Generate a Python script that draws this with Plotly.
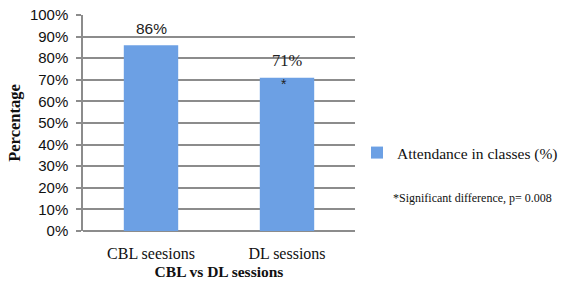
import plotly.graph_objects as go

categories = ["CBL seesions", "DL sessions"]
attendance = [0.86, 0.71]
significance_marks = ["", "*"]
series_name = "Attendance in classes (%)"
note_text = "*Significant difference, p= 0.008"
x_title = "CBL vs DL sessions"
y_title = "Percentage"

SERIF = "Liberation Serif, Cambria, serif"
SANS = "Liberation Sans, Arial, sans-serif"
GRID = "#8c8c8c"

fig = go.Figure()
fig.add_trace(go.Bar(
    x=categories, y=attendance, name=series_name,
    width=0.4,
    marker=dict(color="#6ca0e4", line=dict(width=0)),
    showlegend=True,
))

label_fonts = [SANS, SERIF]
label_sizes = [15.5, 16.5]
for i, (c, v) in enumerate(zip(categories, attendance)):
    fig.add_annotation(x=c, y=v, text=f"{round(v*100)}%", showarrow=False,
                       yshift=17, font=dict(family=label_fonts[i], size=label_sizes[i], color="#222"))
    if significance_marks[i]:
        fig.add_annotation(x=c, y=v, text=significance_marks[i], showarrow=False,
                           yshift=-6, xshift=-3, font=dict(family=SANS, size=14, color="#222"))

fig.add_annotation(xref="paper", yref="paper", x=(391-83)/272, y=1-(198-15)/216,
                   xanchor="left", yanchor="middle", showarrow=False, text=note_text,
                   font=dict(family=SERIF, size=12, color="#111"))

fig.update_layout(
    template="none",
    width=571, height=288,
    margin=dict(l=83, r=216, t=15, b=57, autoexpand=False),
    paper_bgcolor="white", plot_bgcolor="white",
    showlegend=True,
    legend=dict(xref="container", yref="container", x=357/571, y=1-153/288,
                xanchor="left", yanchor="middle",
                font=dict(family=SERIF, size=15.5, color="#111"),
                bgcolor="rgba(0,0,0,0)"),
    xaxis=dict(
        automargin=False,
        tickfont=dict(family=SERIF, size=16, color="#111"),
        ticklabelstandoff=11,
        title=dict(text=f"<b>{x_title}</b>", font=dict(family=SERIF, size=15.5, color="#111"), standoff=5),
        showline=False, ticks="", showgrid=False, zeroline=False,
    ),
    yaxis=dict(
        automargin=False,
        range=[0, 1], dtick=0.1, tickformat=".0%",
        tickfont=dict(family=SANS, size=15, color="#111"),
        title=dict(text=f"<b>{y_title}</b>", font=dict(family=SERIF, size=16.5, color="#111"), standoff=5),
        showgrid=True, gridcolor=GRID, gridwidth=1.5,
        ticks="outside", ticklen=5, tickcolor=GRID, tickwidth=1.5,
        ticklabelstandoff=5,
        showline=True, linecolor=GRID, linewidth=1.5,
        zeroline=True, zerolinecolor=GRID, zerolinewidth=1.5,
    ),
    bargap=0.6,
)

fig.write_html("out.html", config={"displayModeBar": False},
               post_script="document.body.style.margin='0';")
